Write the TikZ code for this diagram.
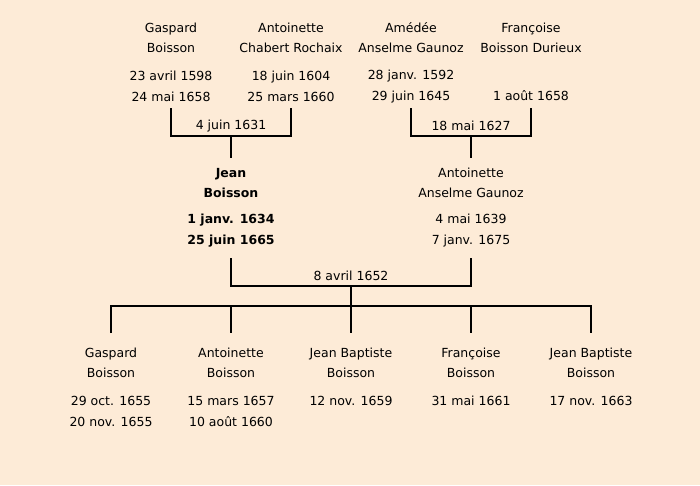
\documentclass[tikz,border=0pt]{standalone}
\usepackage{fontspec}
\setmainfont{DejaVu Sans}
\definecolor{bgc}{RGB}{253,235,215}
\newcommand{\sr}{\rule[-1.5pt]{0pt}{14pt}}
\tikzset{
  lbl/.style={font=\fontsize{12.5}{20}\selectfont, align=center, inner sep=0pt},
  dts/.style={font=\fontsize{12.5}{21}\selectfont, align=center, inner sep=0pt},
  bld/.style={font=\bfseries\fontsize{12.5}{21}\selectfont, align=center, inner sep=0pt},
  conn/.style={line width=2pt, black},
}
\begin{document}
\begin{tikzpicture}[x=1pt,y=-1pt]
\fill[bgc] (0,0) rectangle (700,485);
\useasboundingbox (0,0) rectangle (700,485);
% grandparents
\node[lbl] (gn) at (171,37) {\sr Gaspard\\\sr Boisson};
\node[dts] (gd) at (171,85) {\sr 23 avril 1598\\\sr 24 mai 1658};
\node[lbl] (an) at (291,37) {\sr Antoinette\\\sr Chabert Rochaix};
\node[dts] (ad) at (291,85) {\sr 18 juin 1604\\\sr 25 mars 1660};
\node[lbl] (amn) at (411,37) {\sr Amédée\\\sr Anselme Gaunoz};
\node[dts] (amd) at (411,85) {\sr 28 janv. 1592\\\sr 29 juin 1645};
\node[lbl] (fn) at (531,37) {\sr Françoise\\\sr Boisson Durieux};
\node[dts] (fd) at (531,95) {\sr 1 août 1658};
% parents
\node[font=\bfseries\fontsize{12.5}{20}\selectfont, align=center, inner sep=0pt] (jn) at (231,182) {\sr Jean\\\sr Boisson};
\node[bld] (jd) at (231,229.5) {\sr 1 janv. 1634\\\sr 25 juin 1665};
\node[lbl] (atn) at (471,182) {\sr Antoinette\\\sr Anselme Gaunoz};
\node[dts] (atd) at (471,229.5) {\sr 4 mai 1639\\\sr 7 janv. 1675};
% children
\node[lbl] (c1n) at (111,362) {\sr Gaspard\\\sr Boisson};
\node[dts] (c1d) at (111,410) {\sr 29 oct. 1655\\\sr 20 nov. 1655};
\node[lbl] (c2n) at (231,362) {\sr Antoinette\\\sr Boisson};
\node[dts] (c2d) at (231,410) {\sr 15 mars 1657\\\sr 10 août 1660};
\node[lbl] (c3n) at (351,362) {\sr Jean Baptiste\\\sr Boisson};
\node[dts] (c3d) at (351,400) {\sr 12 nov. 1659};
\node[lbl] (c4n) at (471,362) {\sr Françoise\\\sr Boisson};
\node[dts] (c4d) at (471,400) {\sr 31 mai 1661};
\node[lbl] (c5n) at (591,362) {\sr Jean Baptiste\\\sr Boisson};
\node[dts] (c5d) at (591,400) {\sr 17 nov. 1663};
% marriage labels
\node[dts] (m1) at (231,125) {\sr 4 juin 1631};
\node[dts] (m2) at (471,125) {\sr 18 mai 1627};
\node[dts] (m3) at (351,275) {\sr 8 avril 1652};
% connector points
\coordinate (gT) at (171,108);
\coordinate (aT) at (291,108);
\coordinate (u1) at (231,136);
\coordinate (jT) at (231,158);
\coordinate (amT) at (411,108);
\coordinate (fT) at (531,108);
\coordinate (u2) at (471,136);
\coordinate (atT) at (471,158);
\coordinate (jB) at (231,258);
\coordinate (atB) at (471,258);
\coordinate (u3) at (351,286);
\coordinate (bar) at (351,306);
\coordinate (c1T) at (111,333);
\coordinate (c2T) at (231,333);
\coordinate (c3T) at (351,333);
\coordinate (c4T) at (471,333);
\coordinate (c5T) at (591,333);
\draw[conn] (gT) |- (u1) -| (aT);
\draw[conn] (u1) -- (jT);
\draw[conn] (amT) |- (u2) -| (fT);
\draw[conn] (u2) -- (atT);
\draw[conn] (jB) |- (u3) -| (atB);
\draw[conn] (u3) -- (bar);
\draw[conn] (c1T) |- (bar) -| (c5T);
\draw[conn] (bar -| c2T) -- (c2T);
\draw[conn] (bar) -- (c3T);
\draw[conn] (bar -| c4T) -- (c4T);
\end{tikzpicture}
\end{document}
